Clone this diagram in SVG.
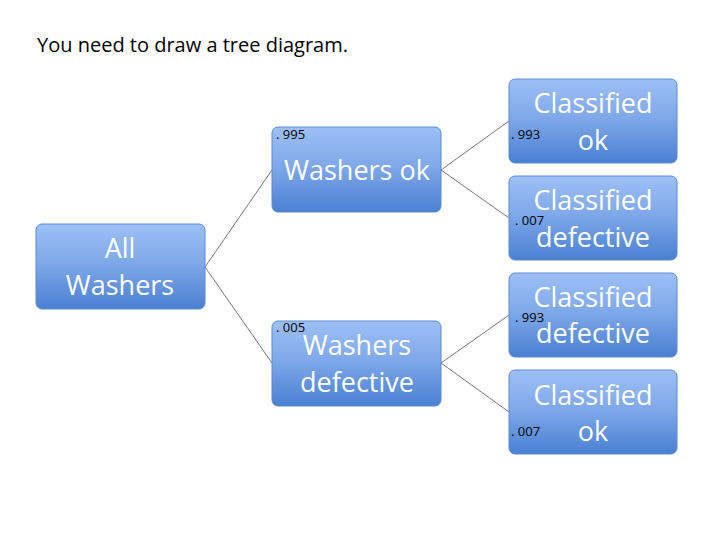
<svg xmlns="http://www.w3.org/2000/svg" width="720" height="540" viewBox="0 0 720 540">
<defs>
<linearGradient id="g" x1="0" y1="0" x2="0" y2="1">
<stop offset="0" stop-color="#9dbff5"/><stop offset="0.45" stop-color="#80a9ea"/><stop offset="1" stop-color="#4a80d2"/>
</linearGradient>
</defs>
<style>
.b{fill:url(#g);stroke:#5a8ad4;stroke-width:1}
.t{font-family:"Open Sans","Liberation Sans",sans-serif;font-size:27px;fill:#fff;text-anchor:middle}
.p{font-family:"Open Sans","Liberation Sans",sans-serif;font-size:13px;fill:#000}
.c line{stroke:#555;stroke-width:0.8}
</style>
<rect width="720" height="540" fill="#fff"/>
<text x="37" y="52" font-family="Open Sans, Liberation Sans, sans-serif" font-size="20" fill="#000">You need to draw a tree diagram.</text>
<g class="c" id="connectors">
<line x1="205" y1="267" x2="272" y2="170"/>
<line x1="205" y1="267" x2="272" y2="363"/>
<line x1="441" y1="170" x2="509" y2="121"/>
<line x1="441" y1="170" x2="509" y2="218"/>
<line x1="441" y1="363" x2="509" y2="315"/>
<line x1="441" y1="363" x2="509" y2="412"/>
</g>
<g id="all"><rect class="b" x="36" y="224" width="169" height="85" rx="6"/><text class="t" x="120" y="258">All</text><text class="t" x="120" y="295">Washers</text></g>
<g id="wok"><rect class="b" x="272" y="127" width="169" height="85" rx="6"/><text class="p" x="276" y="139">. 995</text><text class="t" x="357" y="180">Washers ok</text></g>
<g id="wdef"><rect class="b" x="272" y="321" width="169" height="85" rx="6"/><text class="p" x="276" y="332">. 005</text><text class="t" x="357" y="355">Washers</text><text class="t" x="357" y="392">defective</text></g>
<g id="c1"><rect class="b" x="509" y="79" width="168" height="84" rx="6"/><text class="p" x="511" y="139">. 993</text><text class="t" x="593" y="113">Classified</text><text class="t" x="593" y="150">ok</text></g>
<g id="c2"><rect class="b" x="509" y="176" width="168" height="84" rx="6"/><text class="p" x="515" y="225">. 007</text><text class="t" x="593" y="210">Classified</text><text class="t" x="593" y="247">defective</text></g>
<g id="c3"><rect class="b" x="509" y="273" width="168" height="84" rx="6"/><text class="p" x="515" y="322">. 993</text><text class="t" x="593" y="307">Classified</text><text class="t" x="593" y="343">defective</text></g>
<g id="c4"><rect class="b" x="509" y="370" width="168" height="84" rx="6"/><text class="p" x="511" y="436">. 007</text><text class="t" x="593" y="405">Classified</text><text class="t" x="593" y="441">ok</text></g>
</svg>
